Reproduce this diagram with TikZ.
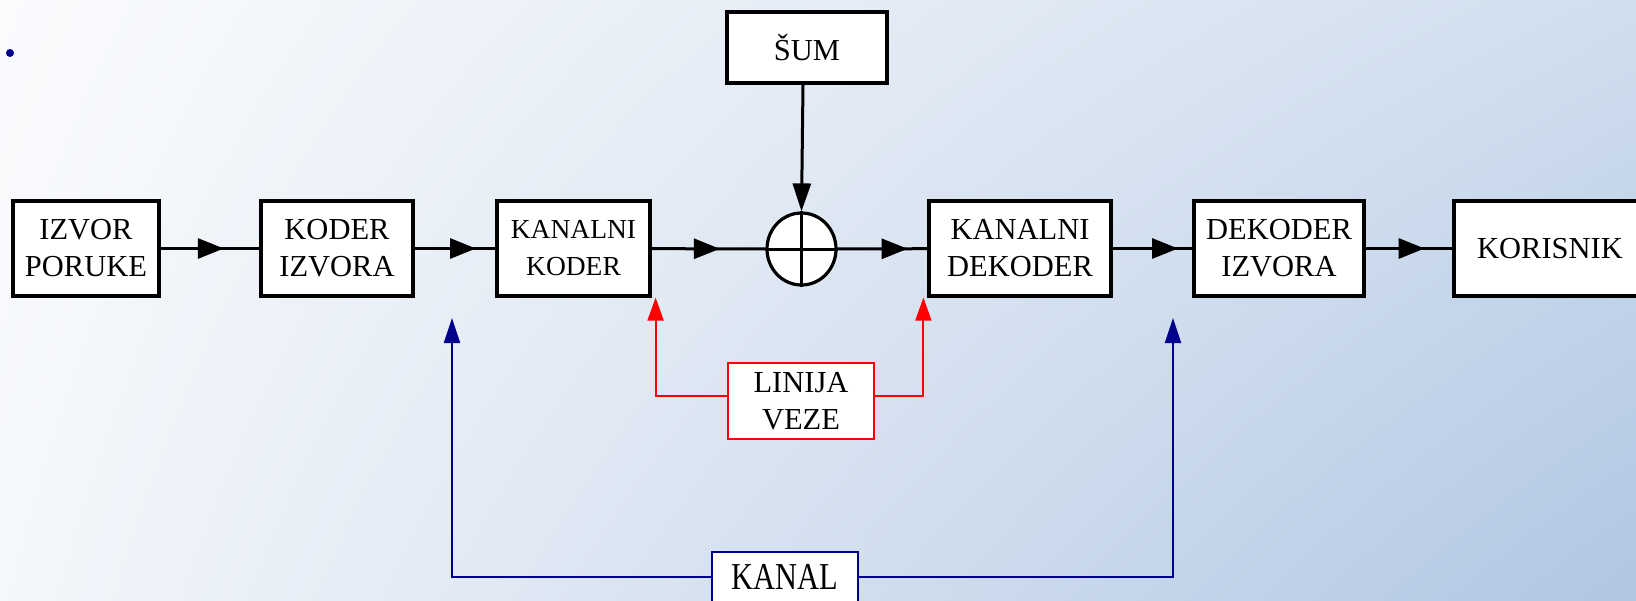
\documentclass[tikz,border=0pt]{standalone}
\usepackage{graphicx}
\usepackage{fontspec}
\setmainfont{Liberation Serif}
\usetikzlibrary{arrows.meta,decorations.markings,shapes.geometric,shadings}

\definecolor{vezared}{RGB}{255,0,0}
\definecolor{kanalblue}{RGB}{0,0,140}
\definecolor{bgtl}{RGB}{250,251,253}
\definecolor{bgtr}{RGB}{208,222,238}
\definecolor{bgbl}{RGB}{244,247,251}
\definecolor{bgbr}{RGB}{176,198,226}

\tikzset{
  blok/.style={draw, line width=3.2pt, fill=white, align=center, inner sep=0pt,
    font=\fontsize{30.5}{37}\selectfont},
  tok/.style={line width=3pt, postaction=decorate,
    decoration={markings, mark=at position #1 with {\arrow{Triangle[length=26pt,width=20pt]}}}},
  veza/.style={draw=vezared, line width=2pt, -{Triangle[length=23pt,width=16pt,fill=vezared]}},
  kanalveza/.style={draw=kanalblue, line width=2pt, -{Triangle[length=25pt,width=16pt,fill=kanalblue]}}
}

\begin{document}
\begin{tikzpicture}[x=1pt,y=-1pt]
\useasboundingbox (0,0) rectangle (1636,600);
\clip (0,0) rectangle (1636,600);
\shade[upper left=bgtl, upper right=bgtr, lower left=bgbl, lower right=bgbr] (0,0) rectangle (1636,600);
\fill[kanalblue] (10,53) circle (4pt);

% glavni lanac
\node[blok, minimum width=146pt, minimum height=95pt] (izvor) at (86,248.5) {IZVOR\\PORUKE};
\node[blok, minimum width=152pt, minimum height=95pt] (koder) at (337,248.5) {KODER\\IZVORA};
\node[blok, minimum width=153pt, minimum height=95pt, font=\fontsize{27.5}{37}\selectfont] (kkoder) at (573.5,248.5) {KANALNI\\KODER};
\node[draw, ellipse, line width=3.2pt, fill=white, minimum width=69pt, minimum height=72pt, inner sep=0pt] (plus) at (801.5,249) {};
\draw[line width=3pt] (plus.north) -- (plus.south) (plus.west) -- (plus.east);
\node[blok, minimum width=182pt, minimum height=95pt] (kdekoder) at (1020,248.5) {KANALNI\\DEKODER};
\node[blok, minimum width=170pt, minimum height=95pt] (dekoder) at (1279,248.5) {DEKODER\\IZVORA};
\node[blok, minimum width=192pt, minimum height=95pt] (korisnik) at (1550,248.5) {KORISNIK};
\node[blok, minimum width=160pt, minimum height=71pt] (sum) at (807,47.5) {ŠUM};

\draw[tok=0.64] (izvor) -- (koder);
\draw[tok=0.76] (koder) -- (kkoder);
\draw[tok=0.60] (kkoder) -- (plus);
\draw[tok=0.78] (plus) -- (kdekoder);
\draw[tok=0.82] (kdekoder) -- (dekoder);
\draw[tok=0.68] (dekoder) -- (korisnik);
\draw[line width=3pt, -{Triangle[length=28pt,width=18pt]}] ([xshift=-4pt]sum.south) -- (plus.north);

% linija veze
\node[blok, draw=vezared, line width=2pt, minimum width=146pt, minimum height=76pt] (linija) at (801,401) {LINIJA\\VEZE};
\draw[veza] ([yshift=5pt]linija.west) -| ([xshift=4pt]kkoder.south east);
\draw[veza] ([yshift=5pt]linija.east) -| ([xshift=-4pt]kdekoder.south west);

% kanal
\coordinate (kanalL) at (452,318);
\coordinate (kanalR) at (1173,318);
\node[blok, draw=kanalblue, line width=2pt, minimum width=146pt, minimum height=50pt,
  font=\fontsize{38}{40}\selectfont] (kanal) at (785,577) {\scalebox{0.8}[1]{KANAL}};
\draw[kanalveza] (kanal.west) -| (kanalL);
\draw[kanalveza] (kanal.east) -| (kanalR);
\end{tikzpicture}
\end{document}
